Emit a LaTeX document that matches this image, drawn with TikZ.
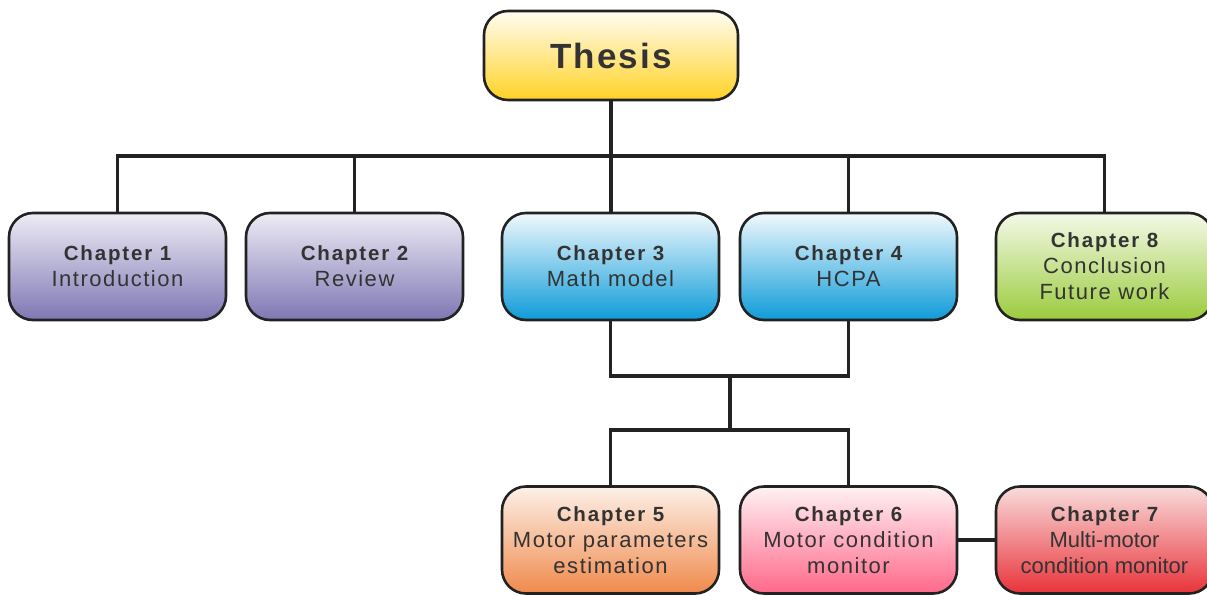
\documentclass[tikz,border=0pt]{standalone}
\usepackage{fontspec}
\setmainfont{Liberation Sans}
\definecolor{boxline}{HTML}{222222}
\definecolor{txt}{HTML}{333333}
\definecolor{thesisT}{HTML}{FFFDF2}
\definecolor{thesisB}{HTML}{FFD225}
\definecolor{purT}{HTML}{EEECF5}
\definecolor{purB}{HTML}{7E77B4}
\definecolor{bluT}{HTML}{F0F9FD}
\definecolor{bluB}{HTML}{0E9BD9}
\definecolor{grnT}{HTML}{F3F9E8}
\definecolor{grnB}{HTML}{9BCB3C}
\definecolor{orgT}{HTML}{FDF0E8}
\definecolor{orgB}{HTML}{F08A4C}
\definecolor{pnkT}{HTML}{FFF2F5}
\definecolor{pnkB}{HTML}{FF6889}
\definecolor{redT}{HTML}{F9DCDC}
\definecolor{redB}{HTML}{E8333A}
\newcommand\chhead[1]{{\bfseries\fontsize{20.5}{26}\selectfont\addfontfeature{LetterSpace=9}#1}}
\begin{document}
\begin{tikzpicture}[x=1pt,y=-1pt,
  chapbox/.style={draw=boxline, line width=2.6pt, rounded corners=24pt,
    minimum width=217pt, minimum height=107pt, inner sep=0pt, align=center,
    text=txt, font=\fontsize{22}{26}\selectfont\addfontfeature{LetterSpace=7}},
  conn/.style={draw=boxline, line width=3.2pt}]
\useasboundingbox (0,0) rectangle (1207,595);

% title box
\node[chapbox, minimum width=254pt, minimum height=89pt,
  top color=thesisT, bottom color=thesisB,
  font=\bfseries\fontsize{35}{40}\selectfont\addfontfeature{LetterSpace=6}]
  (thesis) at (611,55.5) {Thesis};

% first row of chapters
\node[chapbox, top color=purT, bottom color=purB] (c1) at (117.5,266.5)
  {\chhead{Chapter 1}\\Introduction};
\node[chapbox, top color=purT, bottom color=purB] (c2) at (354.5,266.5)
  {\chhead{Chapter 2}\\Review};
\node[chapbox, top color=bluT, bottom color=bluB] (c3) at (610.5,266.5)
  {\chhead{Chapter 3}\\Math model};
\node[chapbox, top color=bluT, bottom color=bluB] (c4) at (848.5,266.5)
  {\chhead{Chapter 4}\\HCPA};
\node[chapbox, top color=grnT, bottom color=grnB] (c8) at (1104.5,266.5)
  {\chhead{Chapter 8}\\Conclusion\\Future work};

% second row of chapters
\node[chapbox, top color=orgT, bottom color=orgB] (c5) at (610.5,540)
  {\chhead{Chapter 5}\\Motor parameters\\estimation};
\node[chapbox, top color=pnkT, bottom color=pnkB] (c6) at (848.5,540)
  {\chhead{Chapter 6}\\Motor condition\\monitor};
\node[chapbox, top color=redT, bottom color=redB,
  font=\fontsize{22}{26}\selectfont] (c7) at (1104.5,540)
  {\chhead{Chapter 7}\\Multi-motor\\condition monitor};

% junction points
\coordinate (bus) at (611,156);
\coordinate (join) at (730,376);
\coordinate (split) at (730,430);

% thesis to first row
\draw[conn] (thesis.south) -- (thesis.south |- c3.north);
\draw[conn] (c1.north) -- (c1.north |- bus) -- (c8.north |- bus) -- (c8.north);
\draw[conn] (c2.north) -- (c2.north |- bus);
\draw[conn] (c4.north) -- (c4.north |- bus);

% chapters 3 and 4 feed chapters 5 and 6
\draw[conn] (c3.south) -- (c3.south |- join) -- (c4.south |- join) -- (c4.south);
\draw[conn] (join) -- (split);
\draw[conn] (c5.north) -- (c5.north |- split) -- (c6.north |- split) -- (c6.north);
\draw[conn] (c6.east) -- (c7.west);
\end{tikzpicture}
\end{document}
